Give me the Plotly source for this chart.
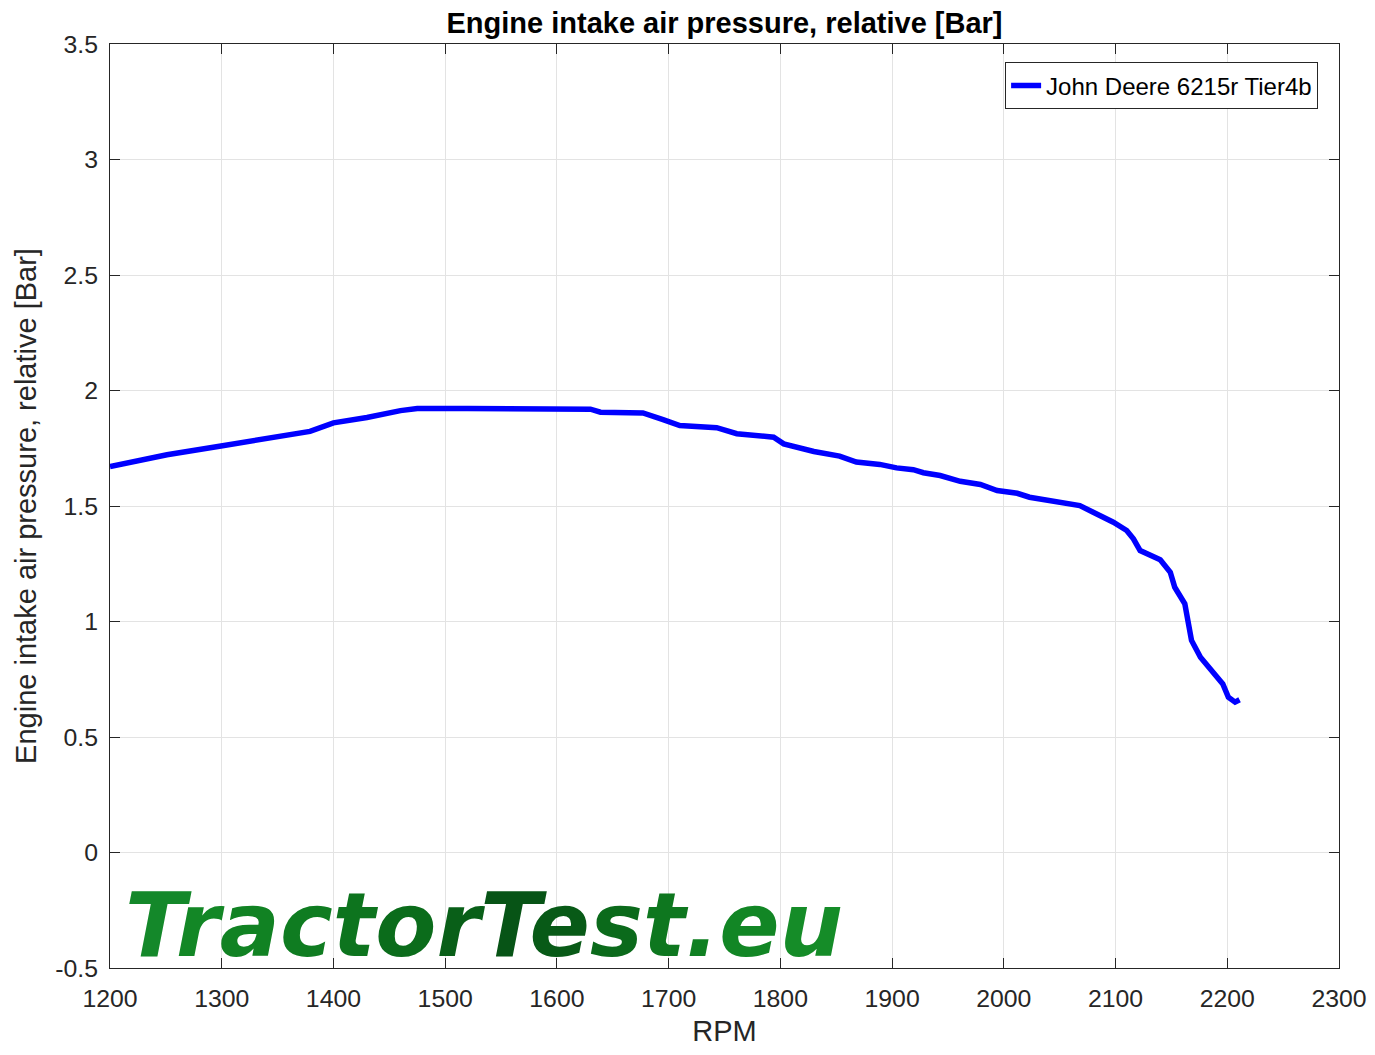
import plotly.graph_objects as go

rpm = [1200, 1251, 1298, 1340, 1379, 1400, 1430, 1460, 1475, 1520, 1570, 1610, 1630,
       1639, 1677, 1695, 1710, 1743, 1761, 1794, 1803, 1830, 1853, 1868, 1889, 1904,
       1919, 1928, 1943, 1961, 1979, 1994, 2012, 2023, 2047, 2068, 2080, 2098, 2110,
       2116, 2122, 2140, 2149, 2153, 2162, 2165, 2168, 2176, 2188, 2196, 2201, 2207, 2211]
pressure = [1.671, 1.722, 1.759, 1.794, 1.823, 1.860, 1.883, 1.913, 1.922, 1.922, 1.921,
            1.921, 1.919, 1.906, 1.903, 1.874, 1.848, 1.839, 1.813, 1.798, 1.769, 1.736,
            1.716, 1.690, 1.680, 1.665, 1.657, 1.644, 1.632, 1.607, 1.593, 1.567, 1.555,
            1.538, 1.519, 1.502, 1.473, 1.430, 1.394, 1.358, 1.307, 1.267, 1.213, 1.148,
            1.077, 1.004, 0.918, 0.845, 0.774, 0.730, 0.672, 0.651, 0.661]

x_ticks = [1200, 1300, 1400, 1500, 1600, 1700, 1800, 1900, 2000, 2100, 2200, 2300]
y_ticks = [-0.5, 0, 0.5, 1, 1.5, 2, 2.5, 3, 3.5]
y_tick_labels = ["-0.5", "0", "0.5", "1", "1.5", "2", "2.5", "3", "3.5"]

logo_letters = list("TractorTest.eu")
logo_colors = ["#14882a", "#138726", "#118223", "#0f7c21", "#0d741e", "#0b6c1b",
               "#095f18", "#075416", "#085a17", "#0b6a1b", "#0e771f", "#108022",
               "#128625", "#158c28"]

fig = go.Figure()
fig.add_trace(go.Scatter(
    x=rpm, y=pressure, mode="lines", name="John Deere 6215r Tier4b",
    line=dict(color="#0000ff", width=5.5)))

logo_text = "".join(f"<span style='color:{c}'>{ch}</span>" for ch, c in zip(logo_letters, logo_colors))
fig.add_annotation(
    xref="paper", yref="paper", x=0.0105, y=-0.012, xanchor="left", yanchor="bottom",
    text=f"<b><i>{logo_text}</i></b>", showarrow=False,
    font=dict(family="DejaVu Sans", size=89, color="#0f7a1e"))

axis_common = dict(showline=True, linecolor="#262626", linewidth=1, mirror="ticks",
                   ticks="inside", ticklen=10, tickcolor="#262626",
                   showgrid=True, gridcolor="#e3e3e3", gridwidth=1, zeroline=False,
                   automargin=False,
                   tickfont=dict(family="Liberation Sans", size=24.8, color="#262626"))

fig.update_layout(
    width=1359, height=1039,
    paper_bgcolor="white", plot_bgcolor="white",
    margin=dict(l=102, r=28, t=36, b=79),
    title=dict(text="<b>Engine intake air pressure, relative [Bar]</b>", x=0.5, xanchor="center",
               xref="paper", y=0.9855, yanchor="middle",
               font=dict(family="Liberation Sans", size=29, color="black")),
    xaxis=dict(range=[1200, 2300], tickvals=x_ticks, ticklabelstandoff=8,
               title=dict(text="RPM", font=dict(family="Liberation Sans", size=29, color="#262626"),
                          standoff=13),
               **axis_common),
    yaxis=dict(range=[-0.5, 3.5], tickvals=y_ticks, ticktext=y_tick_labels, ticklabelstandoff=6,
               title=dict(text="Engine intake air pressure, relative [Bar]",
                          font=dict(family="Liberation Sans", size=29, color="#262626"),
                          standoff=10),
               **axis_common),
    legend=dict(x=0.983, y=0.98, xanchor="right", yanchor="top",
                bgcolor="white", bordercolor="#262626", borderwidth=1,
                font=dict(family="Liberation Sans", size=24, color="black")),
    showlegend=True,
)

fig.write_html("out.html")
